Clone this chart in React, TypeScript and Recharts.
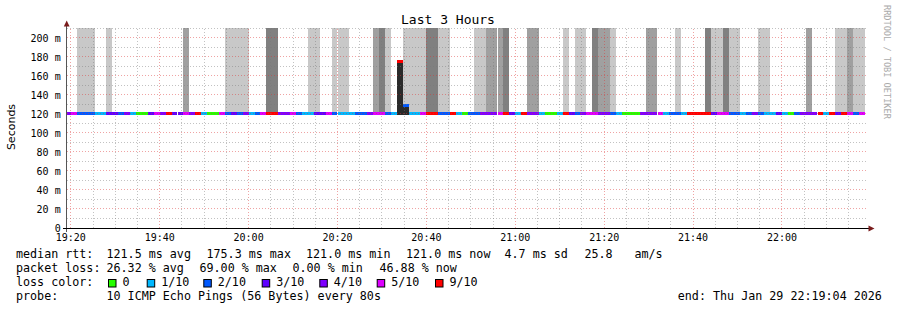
import React from "react";
import { ComposedChart, Bar, Cell, XAxis, YAxis, ReferenceLine } from "recharts";

const W = 897;
const H = 310;
const MONO = "'DejaVu Sans Mono', monospace";
const SANS = "'DejaVu Sans', sans-serif";

// time axis in seconds after 19:00:00, rrd step is 80 s (first step starts 19:18:40)
const STEP = 80;
const FIRST_STEP = 1120;
const START = 1144; // 19:19:04
const END = 11944; // 22:19:04

const X_TICKS = [1200, 2400, 3600, 4800, 6000, 7200, 8400, 9600, 10800];
const X_LABELS = ["19:20", "19:40", "20:00", "20:20", "20:40", "21:00", "21:20", "21:40", "22:00"];
const Y_TICKS = [0, 20, 40, 60, 80, 100, 120, 140, 160, 180, 200];
const Y_LABELS = ["0", "20 m", "40 m", "60 m", "80 m", "100 m", "120 m", "140 m", "160 m", "180 m", "200 m"];

// median rtt per step, ms
const MEDIAN = [
  121, 121, 121, 121, 121, 121, 121, 121, 121, 121, 121, 121, 121, 121, 121,
  121, 121, 121, 121, 121, 121, 121, 121, 121, 121, 121, 121, 121, 121, 121,
  121, 121, 121, 121, 121, 121, 121, 121, 121, 121, 121, 121, 121, 121, 121,
  121, 121, 121, 121, 121, 121, 121, 121, 121, 121, 121, 175.3, 129.4, 121, 121,
  121, 121, 121, 121, 121, 121, 121, 121, 121, 121, 121, 121, 121, 121, 121,
  121, 121, 121, 121, 121, 121, 121, 121, 121, 121, 121, 121, 121, 121, 121,
  121, 121, 121, 121, 121, 121, 121, 121, 121, 121, 121, 121, 121, 121, 121,
  121, 121, 121, 121, 121, 121, 121, 121, 121, 121, 121, 121, 121, 121, 121,
  121, 121, 121, 121, 121, 121, 121, 121, 121, 121, 121, 121, 121, 121, 121,
];

// lost pings (of 10) per step
const LOSS = [
  4, 5, 2, 2, 2, 1, 1, 3, 3, 2, 4, 1, 0, 0, 3,
  5, 4, 9, 3, 3, 5, 4, 9, 1, 0, 0, 5, 2, 3, 2,
  4, 1, 2, 5, 9, 9, 4, 4, 5, 2, 1, 1, 3, 3, 5,
  2, 1, 1, 1, 2, 2, 4, 5, 5, 2, 1, 9, 2, 1, 1,
  5, 9, 9, 2, 2, 9, 1, 0, 2, 2, 4, 4, 4, 5, 9,
  3, 1, 9, 4, 4, 1, 0, 0, 1, 9, 3, 2, 4, 5, 5,
  4, 4, 2, 1, 0, 0, 0, 4, 4, 4, 5, 1, 2, 2, 1,
  9, 9, 9, 9, 3, 5, 5, 2, 2, 1, 2, 4, 2, 1, 1,
  3, 1, 0, 2, 4, 4, 4, 9, 1, 9, 3, 9, 5, 2, 5,
];

// smoke density per step: 0 none, 1 light, 2 mid, 3 dark
const SMOKE = [
  0, 0, 1, 1, 1, 0, 0, 1, 0, 0, 0, 0, 0, 0, 0,
  0, 0, 0, 0, 0, 2, 0, 0, 0, 0, 0, 0, 1, 1, 1,
  1, 0, 0, 0, 3, 3, 0, 0, 0, 0, 0, 1, 1, 0, 0,
  1, 1, 1, 0, 0, 0, 0, 2, 3, 1, 0, 0, 1, 1, 1,
  1, 3, 3, 1, 1, 0, 0, 0, 0, 1, 1, 2, 2, 2, 3,
  0, 0, 0, 2, 2, 0, 0, 0, 0, 1, 0, 1, 1, 0, 3,
  2, 2, 1, 0, 0, 0, 0, 0, 2, 2, 0, 0, 0, 1, 0,
  0, 0, 0, 3, 1, 1, 3, 1, 1, 0, 0, 0, 1, 1, 0,
  0, 0, 0, 0, 0, 2, 0, 0, 0, 0, 1, 1, 2, 1, 1,
];

const LOSS_BUCKETS = [0, 1, 2, 3, 4, 5, 9];
const LOSS_NAMES = ["0", "1/10", "2/10", "3/10", "4/10", "5/10", "9/10"];
const LOSS_COLORS = ["#26ff00", "#00b8ff", "#0059ff", "#5e00ff", "#7e00ff", "#dd00ff", "#ff0000"];
const SMOKE_COLORS = ["transparent", "#c8c8c8", "#a0a0a0", "#808080"];

const RTT_TEXT = ["median rtt:", "121.5 ms avg", "175.3 ms max", "121.0 ms min", "121.0 ms now", "4.7 ms sd", "25.8", "am/s"];
const LOSS_TEXT = ["packet loss:", "26.32 % avg", "69.00 % max", "0.00 % min", "46.88 % now"];
const PROBE_TEXT = ["probe:", "10 ICMP Echo Pings (56 Bytes) every 80s"];
const END_TEXT = "end: Thu Jan 29 22:19:04 2026";

const TOP = 210.5;
const LINE_BELOW = 2;
const LINE_ABOVE = 1.2;
const FLOOR = Math.min(...MEDIAN) - LINE_BELOW;

function lossColor(l: number) {
  let c = LOSS_COLORS[0];
  LOSS_BUCKETS.forEach((b, k) => {
    if (l >= b) c = LOSS_COLORS[k];
  });
  return c;
}

const rows = MEDIAN.map((m, i) => ({
  t: FIRST_STEP + i * STEP + STEP / 2,
  base: FLOOR,
  spike: m - LINE_BELOW - FLOOR,
  line: LINE_BELOW + LINE_ABOVE,
  smoke: SMOKE[i] ? TOP - m - LINE_ABOVE : 0,
}));

const range = (a: number, b: number, s: number) => {
  const r: number[] = [];
  for (let v = a; v <= b; v += s) r.push(v);
  return r;
};
const V_MINOR = range(1200, 11700, 300).filter((v) => v % 1200 !== 0);
const H_MINOR = range(10, 210, 20);
const H_MAJOR = Y_TICKS.slice(1);

const MINOR = "rgba(120,120,120,0.45)";
const MAJOR = "rgba(220,50,50,0.45)";
const ARROW = "#7a1c1c";

const XTick = (p: any) => (
  <text x={p.x} y={p.y} dy={7} textAnchor="middle" fontFamily={MONO} fontSize={10} fill="#000">
    {X_LABELS[X_TICKS.indexOf(p.payload.value)]}
  </text>
);

const YTick = (p: any) => (
  <text x={p.x} y={p.y} dy={3.6} textAnchor="end" fontFamily={MONO} fontSize={10} fill="#000">
    {Y_LABELS[Y_TICKS.indexOf(p.payload.value)]}
  </text>
);

const RTT_X = [16, 106.5, 206.5, 306, 406, 504.5, 584.5, 634.5];
const LOSS_X = [16, 106.5, 199.5, 292.5, 379.5];
const BOX_X = [108, 146.7, 203.3, 261.7, 319.3, 376.7, 435];

export default function App() {
  return (
    <div style={{ position: "absolute", left: 0, top: 0, width: W, height: H, background: "#fff" }}>
      <style>{`.rrd line, .rrd path { shape-rendering: crispEdges; }`}</style>
      <div className="rrd">
        <ComposedChart
          width={W}
          height={H}
          data={rows}
          margin={{ top: 28, right: 30.3, bottom: 52, left: 11.7 }}
          barCategoryGap={0}
          barGap={0}
          barSize={5.9}
        >
          <XAxis
            type="number"
            dataKey="t"
            domain={[START, END]}
            allowDataOverflow
            height={30}
            ticks={X_TICKS}
            interval={0}
            tick={XTick}
            tickLine={false}
            tickSize={4}
            tickMargin={2}
            axisLine={{ stroke: "#000" }}
          />
          <YAxis
            type="number"
            domain={[0, TOP]}
            allowDataOverflow
            ticks={Y_TICKS}
            interval={0}
            width={55}
            tick={YTick}
            tickLine={false}
            tickSize={4}
            tickMargin={2}
            axisLine={{ stroke: "#555" }}
          />
          <Bar dataKey="base" stackId="s" fill="transparent" isAnimationActive={false} />
          <Bar dataKey="spike" stackId="s" fill="#2a2a2a" isAnimationActive={false} />
          <Bar dataKey="line" stackId="s" isAnimationActive={false}>
            {rows.map((_, i) => (
              <Cell key={i} fill={lossColor(LOSS[i])} />
            ))}
          </Bar>
          <Bar dataKey="smoke" stackId="s" isAnimationActive={false}>
            {rows.map((_, i) => (
              <Cell key={i} fill={SMOKE_COLORS[SMOKE[i]]} />
            ))}
          </Bar>
          {V_MINOR.map((v) => (
            <ReferenceLine key={"vm" + v} x={v} stroke={MINOR} strokeDasharray="1 2" />
          ))}
          {H_MINOR.map((v) => (
            <ReferenceLine key={"hm" + v} y={v} stroke={MINOR} strokeDasharray="1 2" />
          ))}
          {X_TICKS.map((v) => (
            <ReferenceLine key={"vM" + v} x={v} stroke={MAJOR} strokeDasharray="1 2" />
          ))}
          {H_MAJOR.map((v) => (
            <ReferenceLine key={"hM" + v} y={v} stroke={MAJOR} strokeDasharray="1 2" />
          ))}
        </ComposedChart>
      </div>
      <svg width={W} height={H} style={{ position: "absolute", left: 0, top: 0, pointerEvents: "none" }}>
        <line x1={66.5} y1={22} x2={66.5} y2={28} stroke="#555" shapeRendering="crispEdges" />
        <line x1={66.5} y1={228} x2={66.5} y2={232} stroke="#555" shapeRendering="crispEdges" />
        <line x1={63} y1={228.5} x2={67} y2={228.5} stroke="#000" shapeRendering="crispEdges" />
        <line x1={866} y1={228.5} x2={869} y2={228.5} stroke="#000" shapeRendering="crispEdges" />
        <polygon points="63.8,26.5 69.6,26.5 66.7,20.5" fill={ARROW} />
        <polygon points="868.5,225.6 868.5,231.4 874.5,228.5" fill={ARROW} />

        <text x={448} y={24.3} textAnchor="middle" fontFamily={MONO} fontSize={13} fill="#000">
          Last 3 Hours
        </text>
        <text transform="translate(14.5,127) rotate(-90)" textAnchor="middle" fontFamily={SANS} fontSize={11} fill="#000">
          Seconds
        </text>
        <text transform="translate(884,5) rotate(90)" fontFamily={MONO} fontSize={8.6} fill="#aaaaaa">
          RRDTOOL / TOBI OETIKER
        </text>

        <g fontFamily={MONO} fontSize={11.7} fill="#000">
          {RTT_TEXT.map((s, k) => (
            <text key={"r" + k} x={RTT_X[k]} y={258}>
              {s}
            </text>
          ))}
          {LOSS_TEXT.map((s, k) => (
            <text key={"l" + k} x={LOSS_X[k]} y={272}>
              {s}
            </text>
          ))}
          <text x={16} y={286}>
            loss color:
          </text>
          {LOSS_NAMES.map((s, k) => (
            <g key={"c" + k}>
              <rect x={BOX_X[k] + 0.5} y={279.5} width={7.5} height={7.5} fill={LOSS_COLORS[k]} stroke="#000" />
              <text x={BOX_X[k] + 14.5} y={286}>
                {s}
              </text>
            </g>
          ))}
          <text x={16} y={300}>
            {PROBE_TEXT[0]}
          </text>
          <text x={106.5} y={300}>
            {PROBE_TEXT[1]}
          </text>
          <text x={677.8} y={300}>
            {END_TEXT}
          </text>
        </g>
      </svg>
    </div>
  );
}
